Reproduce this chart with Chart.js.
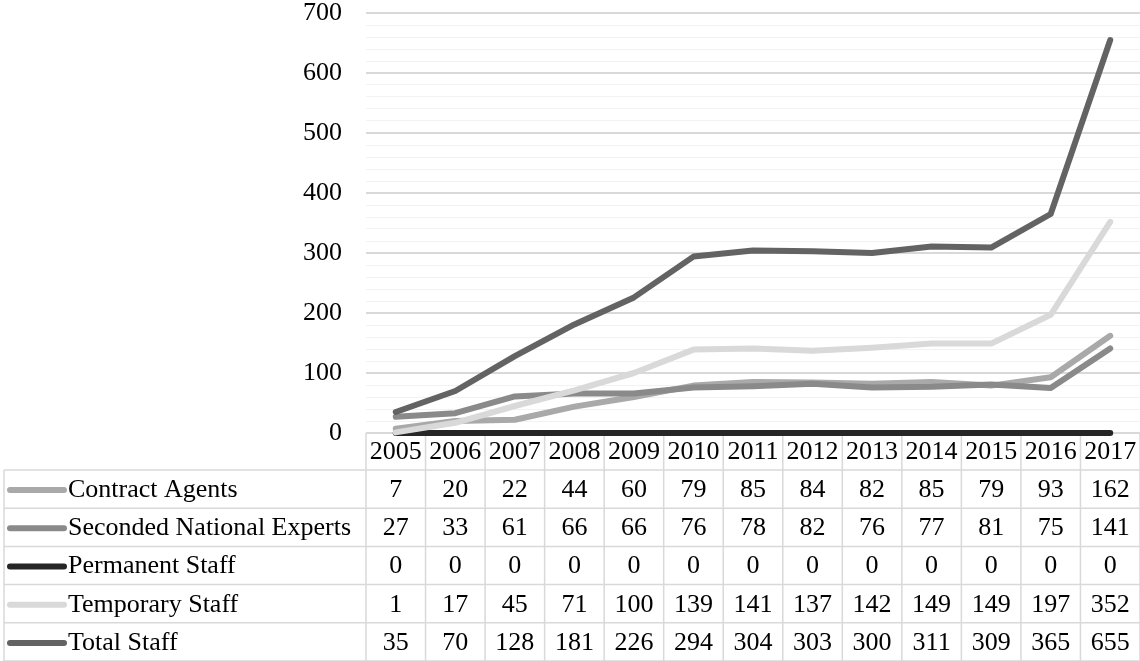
<!DOCTYPE html>
<html>
<head>
<meta charset="utf-8">
<title>Staff 2005-2017</title>
<script src="https://cdn.jsdelivr.net/npm/chart.js@4.4.1/dist/chart.umd.min.js"></script>
<style>
    html, body { margin: 0; padding: 0; background: #fff; }
    #wrap { width: 1140px; height: 661px; position: relative; }
</style>
</head>
<body>
<div id="wrap"><canvas id="staff-chart" width="1140" height="661"></canvas></div>
<script>
// Staff numbers per year
const years = ['2005', '2006', '2007', '2008', '2009', '2010', '2011', '2012', '2013', '2014', '2015', '2016', '2017'];
const contractAgents = [7, 20, 22, 44, 60, 79, 85, 84, 82, 85, 79, 93, 162];
const secondedExperts = [27, 33, 61, 66, 66, 76, 78, 82, 76, 77, 81, 75, 141];
const permanentStaff = [0, 0, 0, 0, 0, 0, 0, 0, 0, 0, 0, 0, 0];
const temporaryStaff = [1, 17, 45, 71, 100, 139, 141, 137, 142, 149, 149, 197, 352];
const totalStaff = [35, 70, 128, 181, 226, 294, 304, 303, 300, 311, 309, 365, 655];

const seriesNames = ['Contract Agents', 'Seconded National Experts', 'Permanent Staff', 'Temporary Staff', 'Total Staff'];
const seriesValues = [contractAgents, secondedExperts, permanentStaff, temporaryStaff, totalStaff];
const seriesColors = ['#a9a9a9', '#8a8a8a', '#262626', '#d9d9d9', '#636363'];

const yMax = 700;
const yMajorStep = 100;
const yMinorStep = 20;

const FONT = '"Liberation Serif", "Times New Roman", serif';
const BORDER = '#d9d9d9';

// Data table under the plot: year header + one row per series with a line key
const dataTablePlugin = {
    id: 'dataTable',
    beforeDatasetsDraw(chart) {
        const ctx = chart.ctx;
        const xs = chart.scales.x;
        const area = chart.chartArea;
        const colW = xs.width / years.length;
        const tableLeft = 4;
        const headerTop = area.bottom;
        const headerBottom = headerTop + 37;
        const rowH = (chart.height - headerBottom) / seriesNames.length;

        ctx.save();
        ctx.strokeStyle = BORDER;
        ctx.lineWidth = 1.5;

        // horizontal borders
        ctx.beginPath();
        ctx.moveTo(area.left, headerTop);
        ctx.lineTo(area.right, headerTop);
        for (let r = 0; r <= seriesNames.length; r++) {
            const y = headerBottom + r * rowH;
            ctx.moveTo(tableLeft, y);
            ctx.lineTo(area.right, y);
        }
        // vertical borders
        ctx.moveTo(tableLeft, headerBottom);
        ctx.lineTo(tableLeft, chart.height);
        for (let c = 0; c <= years.length; c++) {
            const x = area.left + c * colW;
            ctx.moveTo(x, headerTop);
            ctx.lineTo(x, chart.height);
        }
        ctx.stroke();

        ctx.fillStyle = '#000';
        ctx.font = '26px ' + FONT;
        ctx.textBaseline = 'middle';

        // year header
        ctx.textAlign = 'center';
        years.forEach((yr, i) => {
            ctx.fillText(yr, xs.getPixelForValue(i), (headerTop + headerBottom) / 2 + 1);
        });

        // series rows
        seriesNames.forEach((name, r) => {
            const cy = headerBottom + r * rowH + rowH / 2 + 1;

            ctx.strokeStyle = seriesColors[r];
            ctx.lineWidth = 6;
            ctx.lineCap = 'round';
            ctx.beginPath();
            ctx.moveTo(10, cy);
            ctx.lineTo(64, cy);
            ctx.stroke();

            ctx.textAlign = 'left';
            ctx.fillText(name, 68, cy);

            ctx.textAlign = 'center';
            seriesValues[r].forEach((v, i) => {
                ctx.fillText(String(v), xs.getPixelForValue(i), cy);
            });
        });
        ctx.restore();
    }
};

const datasets = seriesNames.map((name, i) => ({
    label: name,
    data: seriesValues[i],
    borderColor: seriesColors[i],
    backgroundColor: seriesColors[i],
    borderWidth: 6,
    borderCapStyle: 'round',
    borderJoinStyle: 'round',
    pointRadius: 0,
    tension: 0,
    fill: false,
    clip: false,
    // later series sit on top
    order: seriesNames.length - i
}));

new Chart(document.getElementById('staff-chart'), {
    type: 'line',
    data: { labels: years, datasets: datasets },
    plugins: [dataTablePlugin],
    options: {
        responsive: false,
        animation: false,
        devicePixelRatio: 1,
        layout: { padding: { left: 0, right: 0, top: 13, bottom: 228 } },
        plugins: {
            legend: { display: false },
            tooltip: { enabled: false }
        },
        scales: {
            x: {
                type: 'category',
                offset: true,
                display: false
            },
            y: {
                min: 0,
                max: yMax,
                border: { display: false },
                grid: {
                    drawTicks: false,
                    color: c => (c.tick.value % yMajorStep === 0 ? '#d9d9d9' : '#f2f2f2'),
                    lineWidth: c => (c.tick.value % yMajorStep === 0 ? 2 : 1)
                },
                ticks: {
                    stepSize: yMinorStep,
                    autoSkip: false,
                    padding: 24,
                    color: '#000',
                    font: { family: FONT, size: 26, lineHeight: 1 },
                    callback: v => (v % yMajorStep === 0 ? v : '')
                },
                afterFit(scale) {
                    // fixed label column; layout padding handles top/bottom room
                    scale.width = 366;
                    scale.paddingTop = 0;
                    scale.paddingBottom = 0;
                }
            }
        }
    }
});
</script>
</body>
</html>
